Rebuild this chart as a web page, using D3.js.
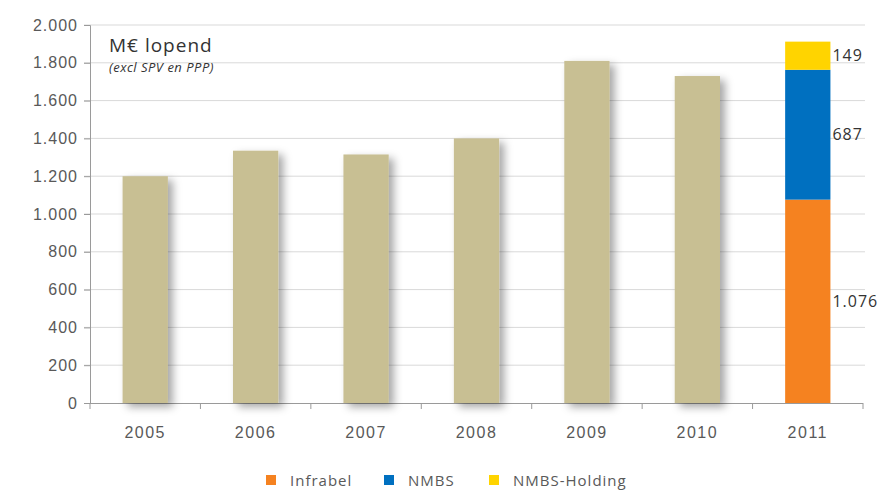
<!DOCTYPE html>
<html>
<head>
<meta charset="utf-8">
<script src="https://cdnjs.cloudflare.com/ajax/libs/d3/7.8.5/d3.min.js"></script>
<style>
  body { margin: 0; background: #fff; }
  svg { font-family: "Open Sans", Lato, sans-serif; }
</style>
</head>
<body>
<svg id="chart" width="893" height="493"></svg>
<script>
// data
var years = ['2005', '2006', '2007', '2008', '2009', '2010', '2011'];
var totals = [1200, 1335, 1315, 1400, 1810, 1730, null];
var series = ['Infrabel', 'NMBS', 'NMBS-Holding'];
var split2011 = [1076, 687, 149];
var splitLabels = ['1.076', '687', '149'];
var yTicks = [0, 200, 400, 600, 800, 1000, 1200, 1400, 1600, 1800, 2000];

var colors = { 'Infrabel': '#f58220', 'NMBS': '#0070c0', 'NMBS-Holding': '#ffd400' };
var barColor = '#c8bf93';

var svg = d3.select('#chart');
var margin = { top: 25, right: 30, bottom: 90, left: 90 };
var width = 863 - margin.left;
var height = 403 - margin.top;

var defs = svg.append('defs');
var f = defs.append('filter').attr('id', 'shadow')
    .attr('x', '-20%').attr('y', '-5%').attr('width', '170%').attr('height', '115%');
f.append('feDropShadow').attr('dx', 5).attr('dy', 4).attr('stdDeviation', 4)
    .attr('flood-color', '#000').attr('flood-opacity', 0.35);

var g = svg.append('g').attr('transform', 'translate(' + margin.left + ',' + margin.top + ')');

var x = d3.scaleBand().domain(years).range([0, width]).paddingInner(0.59).paddingOuter(0.295);
var y = d3.scaleLinear().domain([0, 2000]).range([height, 0]);

// gridlines
g.selectAll('.grid').data(yTicks.filter(d => d > 0)).enter().append('line')
    .attr('x1', -6).attr('x2', width + 2)
    .attr('y1', d => y(d)).attr('y2', d => y(d))
    .attr('stroke', '#d9d9d9').attr('stroke-width', 1);

// y axis
var yAxis = g.append('g').call(d3.axisLeft(y).tickValues(yTicks).tickSize(6)
    .tickFormat(d => d3.format(',')(d).replace(/,/g, '.')));
yAxis.select('.domain').attr('stroke', '#9a9a9a');
yAxis.selectAll('.tick line').attr('stroke', '#9a9a9a');
yAxis.selectAll('text').attr('fill', '#595959').style('font-size', '16px')
    .style('letter-spacing', '1px').attr('x', -12);

// x axis
var xAxis = g.append('g').attr('transform', 'translate(0,' + height + ')')
    .call(d3.axisBottom(x).tickSize(0).tickPadding(24));
xAxis.select('.domain').attr('stroke', '#9a9a9a').attr('d', 'M-6,0.5H' + width);
xAxis.selectAll('text').attr('fill', '#595959').style('font-size', '16px')
    .style('letter-spacing', '1.5px');
g.selectAll('.xtick').data(d3.range(years.length + 1)).enter().append('line')
    .attr('x1', i => i * x.step()).attr('x2', i => i * x.step())
    .attr('y1', height).attr('y2', height + 6)
    .attr('stroke', '#9a9a9a');

// bars 2005-2010
g.selectAll('.bar').data(years.filter((d, i) => totals[i] != null)).enter().append('rect')
    .attr('class', 'bar')
    .attr('x', d => x(d))
    .attr('width', x.bandwidth())
    .attr('y', (d, i) => y(totals[i]))
    .attr('height', (d, i) => height - y(totals[i]))
    .attr('fill', barColor)
    .attr('filter', 'url(#shadow)');

// stacked 2011
var cum = 0;
var stack = split2011.map(function (v, i) {
    var s = { key: series[i], y0: cum, y1: cum + v, label: splitLabels[i] };
    cum += v;
    return s;
});
g.selectAll('.seg').data(stack).enter().append('rect')
    .attr('x', x('2011'))
    .attr('width', x.bandwidth())
    .attr('y', d => y(d.y1))
    .attr('height', d => y(d.y0) - y(d.y1))
    .attr('fill', d => colors[d.key]);

g.selectAll('.seglabel').data(stack).enter().append('text')
    .attr('x', x('2011') + x.bandwidth() + 2)
    .attr('y', d => y((d.y0 + d.y1) / 2))
    .attr('dy', '0.35em')
    .attr('fill', '#333')
    .style('font-size', '16px')
    .style('letter-spacing', '1px')
    .text(d => d.label);

// title
svg.append('text').attr('x', 109).attr('y', 52).attr('fill', '#333')
    .style('font-size', '19px').style('letter-spacing', '1px').text('M€ lopend');
svg.append('text').attr('x', 109).attr('y', 72).attr('fill', '#333')
    .style('font-size', '13px').style('font-style', 'italic')
    .style('letter-spacing', '0.5px').text('(excl SPV en PPP)');

// legend
var legX = [266, 384, 489];
var leg = svg.selectAll('.leg').data(series).enter().append('g')
    .attr('transform', (d, i) => 'translate(' + legX[i] + ',475)');
leg.append('rect').attr('width', 10).attr('height', 10).attr('fill', d => colors[d]);
leg.append('text').attr('x', 24).attr('y', 11).attr('fill', '#595959')
    .style('font-size', '15px').style('letter-spacing', '1px').text(d => d);
</script>
</body>
</html>
